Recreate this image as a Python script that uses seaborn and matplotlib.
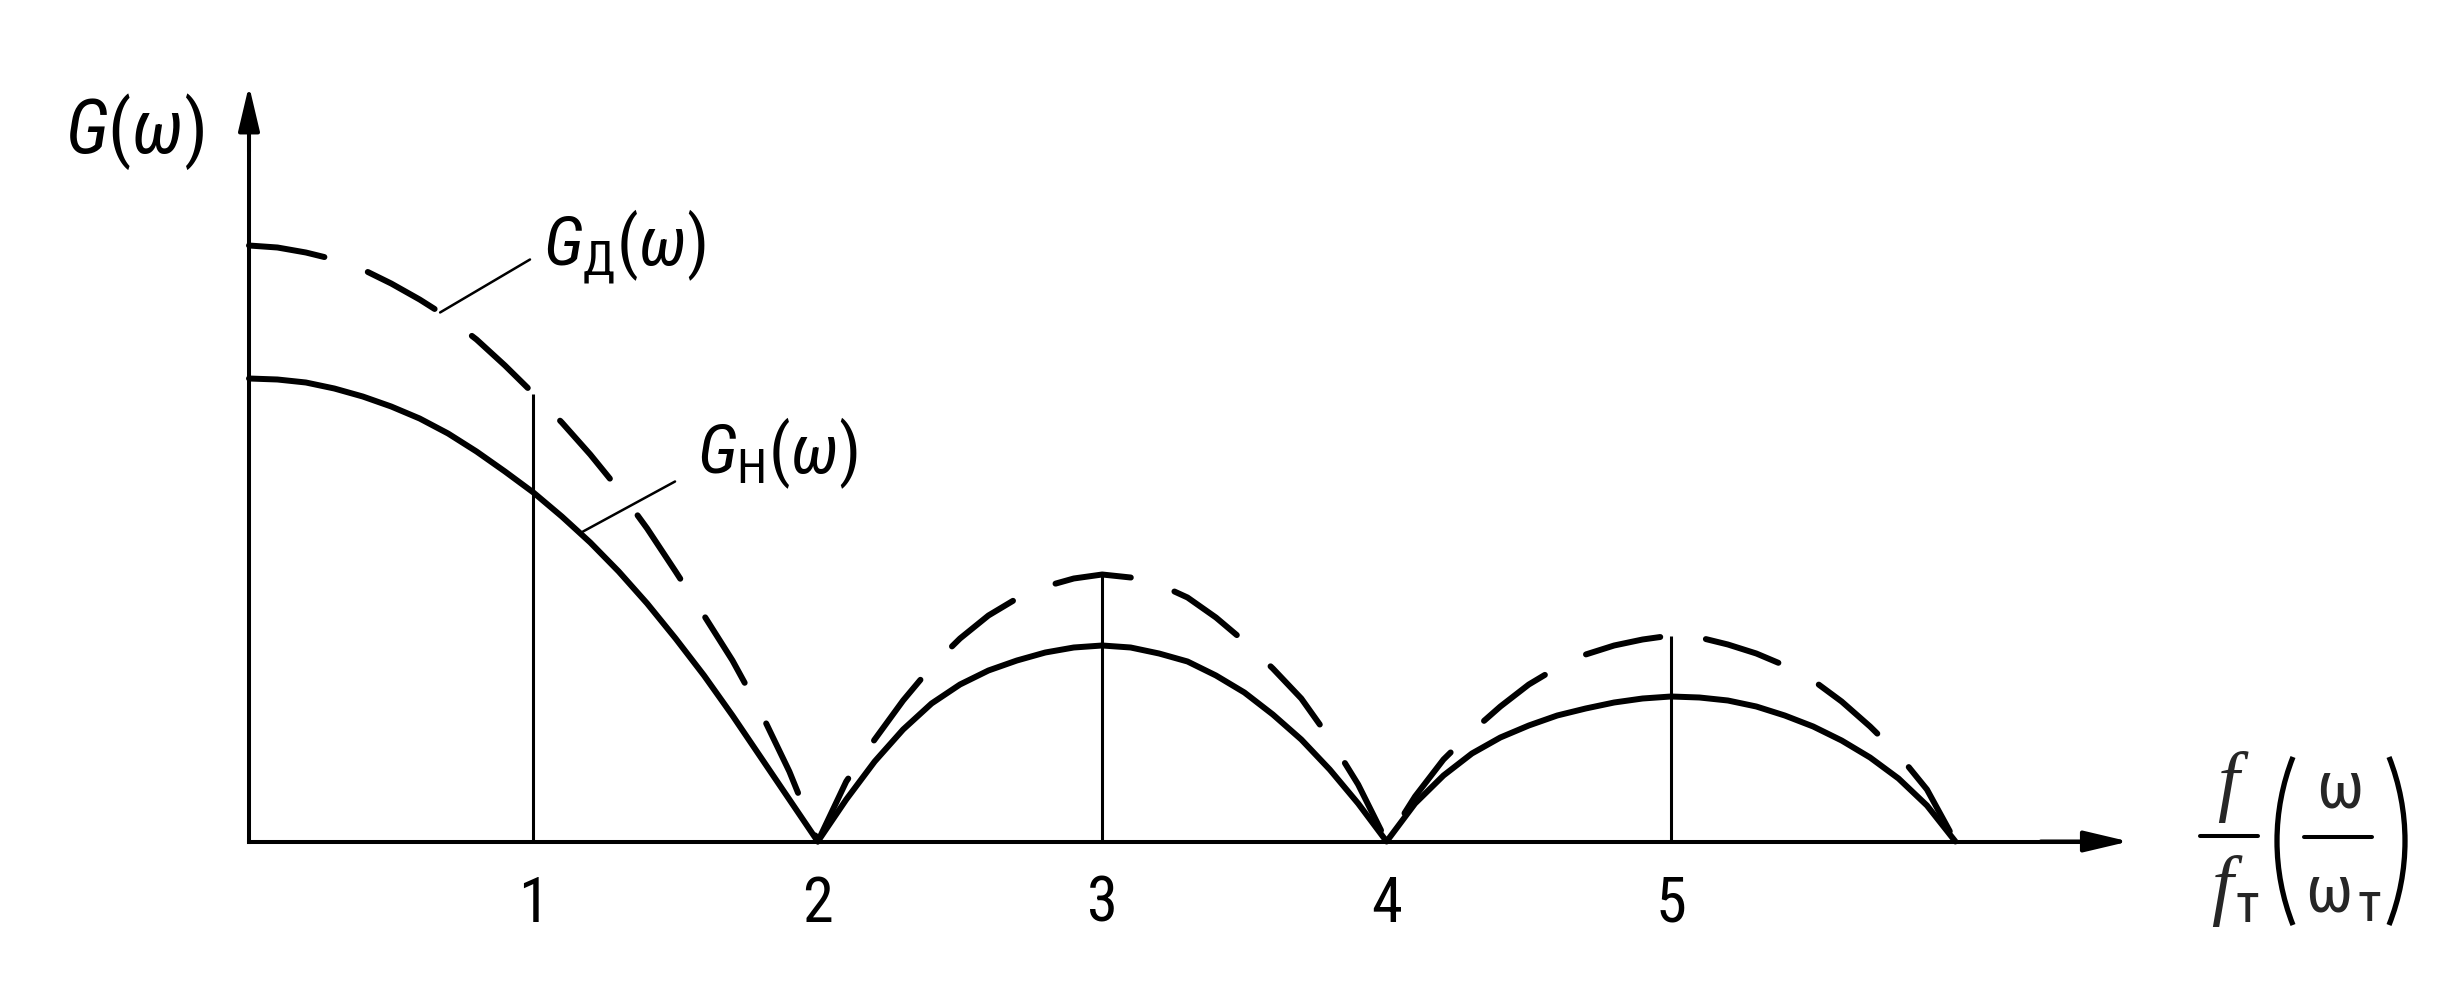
import numpy as np
import pandas as pd
import matplotlib
matplotlib.use("Agg")
import matplotlib.pyplot as plt
import seaborn as sns
from matplotlib import font_manager as fm
from matplotlib.patches import Arc
from matplotlib.lines import Line2D

# ---------------- data ----------------
freq = [0.0, 0.1, 0.2, 0.3, 0.4, 0.5, 0.6, 0.7, 0.8, 0.9, 1.0,
        1.1, 1.2, 1.3, 1.4, 1.5, 1.6, 1.7, 1.8, 1.9, 2.0,
        2.1, 2.2, 2.3, 2.4, 2.5, 2.6, 2.7, 2.8, 2.9, 3.0,
        3.1, 3.2, 3.3, 3.4, 3.5, 3.6, 3.7, 3.8, 3.9, 4.0,
        4.1, 4.2, 4.3, 4.4, 4.5, 4.6, 4.7, 4.8, 4.9, 5.0,
        5.1, 5.2, 5.3, 5.4, 5.5, 5.6, 5.7, 5.8, 5.9, 6.0]

# G_н(ω) – solid curve
g_n = [463, 462, 459, 453, 445, 435, 423, 408, 390, 370, 349,
       325, 299, 270, 238, 203, 166, 126, 84, 42, 0,
       42, 80, 112, 138, 157, 171, 181, 189, 194, 196,
       194, 188, 180, 166, 149, 127, 102, 72, 38, 0,
       38, 66, 88, 104, 116, 126, 133, 139, 143, 145,
       144, 141, 135, 126, 115, 101, 84, 63, 36, 0]

# G_д(ω) – dashed curve
g_d = [596, 594, 589, 582, 572, 558, 542, 524, 502, 476, 448,
       419, 387, 352, 313, 270, 226, 181, 129, 70, 0,
       60, 102, 141, 175, 203, 226, 243, 255, 263, 267,
       264, 257, 244, 224, 200, 173, 143, 103, 57, 0,
       45, 82, 110, 135, 157, 174, 187, 196, 202, 206,
       204, 197, 188, 176, 161, 140, 115, 87, 52, 0]

tick_vals = [1, 2, 3, 4, 5]
tick_labels = ["1", "2", "3", "4", "5"]
marker_freqs = [1.0, 3.0, 5.0]          # thin vertical lines
label_y = r"$G(\omega)$"
label_d = r"$G_{\mathrm{Д}}(\omega)$"
label_n = r"$G_{\mathrm{Н}}(\omega)$"

# ---------------- style ----------------
sns.set_theme(style="white")
avail = {f.name for f in fm.fontManager.ttflist}


def pick(*names):
    for n in names:
        if n in avail:
            return n
    return "DejaVu Sans"


NARROW = pick("Liberation Sans Narrow", "Roboto Condensed", "Liberation Sans")
SERIF = pick("Liberation Serif", "DejaVu Serif")
plt.rcParams["font.family"] = [NARROW, "DejaVu Sans"]
plt.rcParams["mathtext.fontset"] = "custom"
plt.rcParams["mathtext.rm"] = NARROW
plt.rcParams["mathtext.it"] = NARROW + ":italic"
plt.rcParams["mathtext.bf"] = NARROW + ":bold"
plt.rcParams["mathtext.sf"] = NARROW

W, H = 2461, 991
X0, UNIT, Y0 = 249.0, 284.4, 841.5
fig = plt.figure(figsize=(W / 100, H / 100), dpi=100)
fig.patch.set_facecolor("white")
ax = fig.add_axes([0, 0, 1, 1])
ax.set_facecolor("white")
ax.set_xlim(-X0 / UNIT, (W - X0) / UNIT)
ax.set_ylim(-(H - Y0), Y0)

n = len(freq)
df = pd.DataFrame({"f": freq * 2, "G": g_n + g_d,
                   "curve": ["н"] * n + ["д"] * n})

sns.lineplot(data=df[df.curve == "н"], x="f", y="G", color="black",
             lw=4.3, estimator=None, sort=False, legend=False, ax=ax,
             solid_joinstyle="round", solid_capstyle="round")
sns.lineplot(data=df[df.curve == "д"], x="f", y="G", color="black",
             lw=4.3, estimator=None, sort=False, legend=False, ax=ax,
             linestyle=(0, (12.8, 7.7)), dash_capstyle="round")

# thin vertical lines up to dashed curve
tops = [np.interp(x, freq, g_d) for x in marker_freqs]
ax.vlines(marker_freqs, 0, tops, color="black", lw=2.2)

# axes
for s in ["top", "right"]:
    ax.spines[s].set_visible(False)
for s in ["left", "bottom"]:
    ax.spines[s].set_color("black")
    ax.spines[s].set_linewidth(2.9)
    ax.spines[s].set_position(("data", 0))
ax.spines["left"].set_bounds(0, 720)
ax.spines["bottom"].set_bounds(0, 6.45)
ax.grid(False)
ax.set_yticks([])
ax.set_xticks(tick_vals, tick_labels)
ax.tick_params(axis="x", length=0, pad=24, labelsize=45, colors="black")
ax.set_xlabel("")
ax.set_ylabel("")

arrow_kw = dict(arrowstyle="-|>,head_length=0.55,head_width=0.13",
                mutation_scale=50, lw=2.9, color="black",
                shrinkA=0, shrinkB=0)
ax.annotate("", xy=(0, 756), xytext=(0, 690), arrowprops=arrow_kw)
ax.annotate("", xy=(6.61, 0), xytext=(6.3, 0), arrowprops=arrow_kw)

# curve labels with leader lines
lead = dict(arrowstyle="-", lw=1.8, color="black", shrinkA=0, shrinkB=0)
xd = 0.672
ax.annotate("", xy=(xd, np.interp(xd, freq, g_d)), xytext=(0.988, 582),
            arrowprops=lead)
ax.text(1.034, 576, label_d, fontsize=50, ha="left", va="baseline",
        color="black")
xn = 1.164
ax.annotate("", xy=(xn, np.interp(xn, freq, g_n)), xytext=(1.498, 360),
            arrowprops=lead)
ax.text(1.575, 368, label_n, fontsize=50, ha="left", va="baseline",
        color="black")

# y-axis label
ax.text(-0.647, 689, label_y, fontsize=54, ha="left", va="baseline",
        color="black")


# x-axis label: f/f_т (ω/ω_т)  -- built in figure pixel space
def fx(px):
    return px / W


def fy(py):
    return 1 - py / H


fig.text(fx(2228), fy(806), "f", fontsize=56, family=SERIF, style="italic",
         ha="center", va="baseline")
fig.text(fx(2222), fy(910), "f", fontsize=56, family=SERIF, style="italic",
         ha="center", va="baseline")
fig.text(fx(2247), fy(922), "т", fontsize=40, ha="center", va="baseline")
fig.add_artist(Line2D([fx(2200), fx(2258)], [fy(836), fy(836)],
                      color="black", lw=2.9))

fig.text(fx(2340), fy(808), "ω", fontsize=48, ha="center", va="baseline")
fig.text(fx(2329), fy(911), "ω", fontsize=48, ha="center", va="baseline")
fig.text(fx(2369), fy(921), "т", fontsize=40, ha="center", va="baseline")
fig.add_artist(Line2D([fx(2304), fx(2372)], [fy(837), fy(837)],
                      color="black", lw=2.9))

R = 228.5
half = np.degrees(np.arcsin(84 / R))
cy = (H - 841) / 100
fig.add_artist(Arc(((2277 + R) / 100, cy), 2 * R / 100, 2 * R / 100,
                   theta1=180 - half, theta2=180 + half,
                   transform=fig.dpi_scale_trans, lw=3.8, color="black"))
fig.add_artist(Arc(((2405 - R) / 100, cy), 2 * R / 100, 2 * R / 100,
                   theta1=-half, theta2=half,
                   transform=fig.dpi_scale_trans, lw=3.8, color="black"))

fig.savefig("out.png", dpi=100, facecolor="white")
